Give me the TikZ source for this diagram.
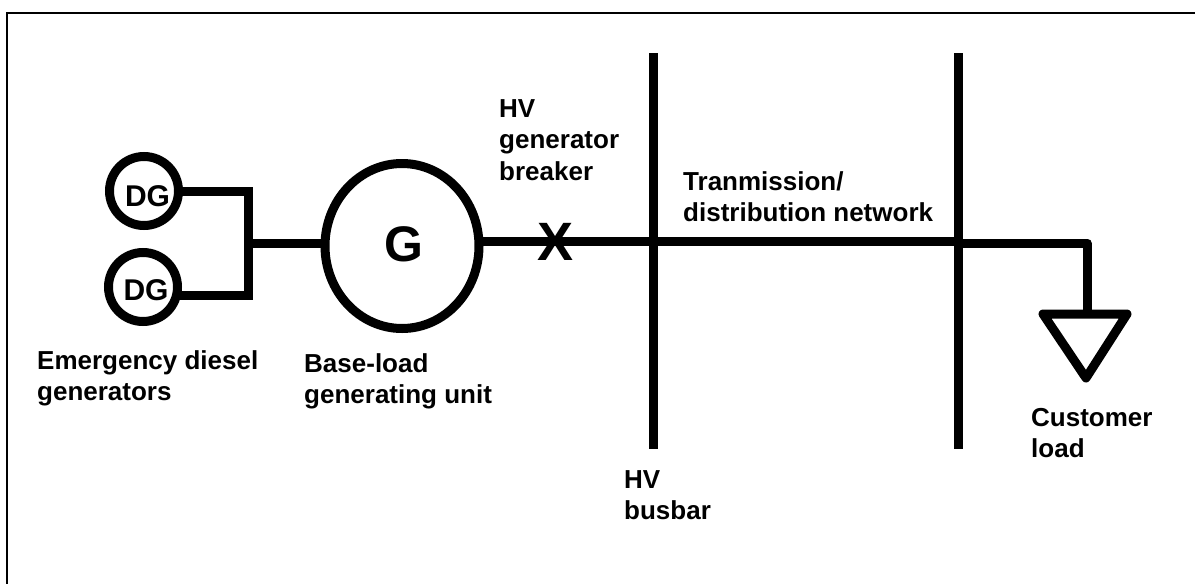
\documentclass[tikz,border=0pt]{standalone}
\usepackage{fontspec}
\setmainfont{Liberation Sans}
\usetikzlibrary{calc,shapes.geometric}
\begin{document}
\begin{tikzpicture}[x=1pt,y=-1pt,
        wire/.style={line width=9pt},
        gennode/.style={circle, draw=black, line width=9pt, inner sep=0pt, outer sep=0pt},
        dgnode/.style={gennode, minimum size=69pt, font=\bfseries\fontsize{30}{30}\selectfont},
        lbl/.style={align=left, anchor=north west, inner sep=0pt, font=\bfseries\fontsize{26}{31.5}\selectfont},
    ]
    \useasboundingbox (0,0) rectangle (1195,584);

    % Frame
    \coordinate (fa) at (7,584);
    \coordinate (fb) at (7,13);
    \coordinate (fc) at (1195,13);
    \draw[line width=2pt] (fa) -- (fb) -- (fc);

    % Nodes
    \node[dgnode] (dg1) at (144,191) {\hspace{7pt}\raisebox{-5pt}[\height][\depth]{DG}};
    \node[dgnode] (dg2) at (143,287) {\hspace{6pt}\raisebox{-3pt}[\height][\depth]{DG}};
    \node[gennode, ellipse, minimum width=154pt, minimum height=165pt, font=\bfseries\fontsize{50}{50}\selectfont] (g) at (402,246) {\hspace{3pt}\raisebox{2pt}[\height][\depth]{G}};
    \node[font=\bfseries\fontsize{54}{54}\selectfont, inner sep=0pt] (x) at (556,242) {X};

    \coordinate (j1) at (248,191.5);
    \coordinate (j2) at (248,295);
    \coordinate (j) at (248,243);
    \coordinate (bus1t) at (653,53);
    \coordinate (bus1b) at (653,449);
    \coordinate (bus2t) at (958,53);
    \coordinate (bus2b) at (958,449);
    \coordinate (bus1) at (653,241);
    \coordinate (bus2) at (958,241);
    \coordinate (bus3) at (958,243);
    \coordinate (lc) at (1087,243);
    \coordinate (lt) at (1087,314);
    \coordinate (ll) at (1043,314);
    \coordinate (lr) at (1127,314);
    \coordinate (lb) at (1086,378);

    % Edges
    \draw[wire] (dg1.east |- j1) -- (j1) -- (j2) -- (dg2.east |- j2);
    \draw[wire] (j) -- (g.west |- j);
    \draw[wire] (g.east |- bus1) -- (bus1);
    \draw[wire] (bus1t) -- (bus1b);
    \draw[wire] (bus2t) -- (bus2b);
    \draw[wire] (bus1) -- (bus2);
    \draw[wire, line join=round] (bus3) -- (lc) -- (lt);
    \draw[wire, line join=round] (ll) -- (lr) -- (lb) -- cycle;

    % Labels
    \node[lbl] (l1) at (37,350) {Emergency diesel\\generators};
    \node[lbl] (l2) at (304,353) {Base-load\\generating unit};
    \node[lbl] (l3) at (499,99) {HV\\generator\\breaker};
    \node[lbl] (l4) at (683,171) {Tranmission/\\distribution network};
    \node[lbl] (l5) at (624,470) {HV\\busbar};
    \node[lbl] (l6) at (1031,408) {Customer\\load};
\end{tikzpicture}
\end{document}
